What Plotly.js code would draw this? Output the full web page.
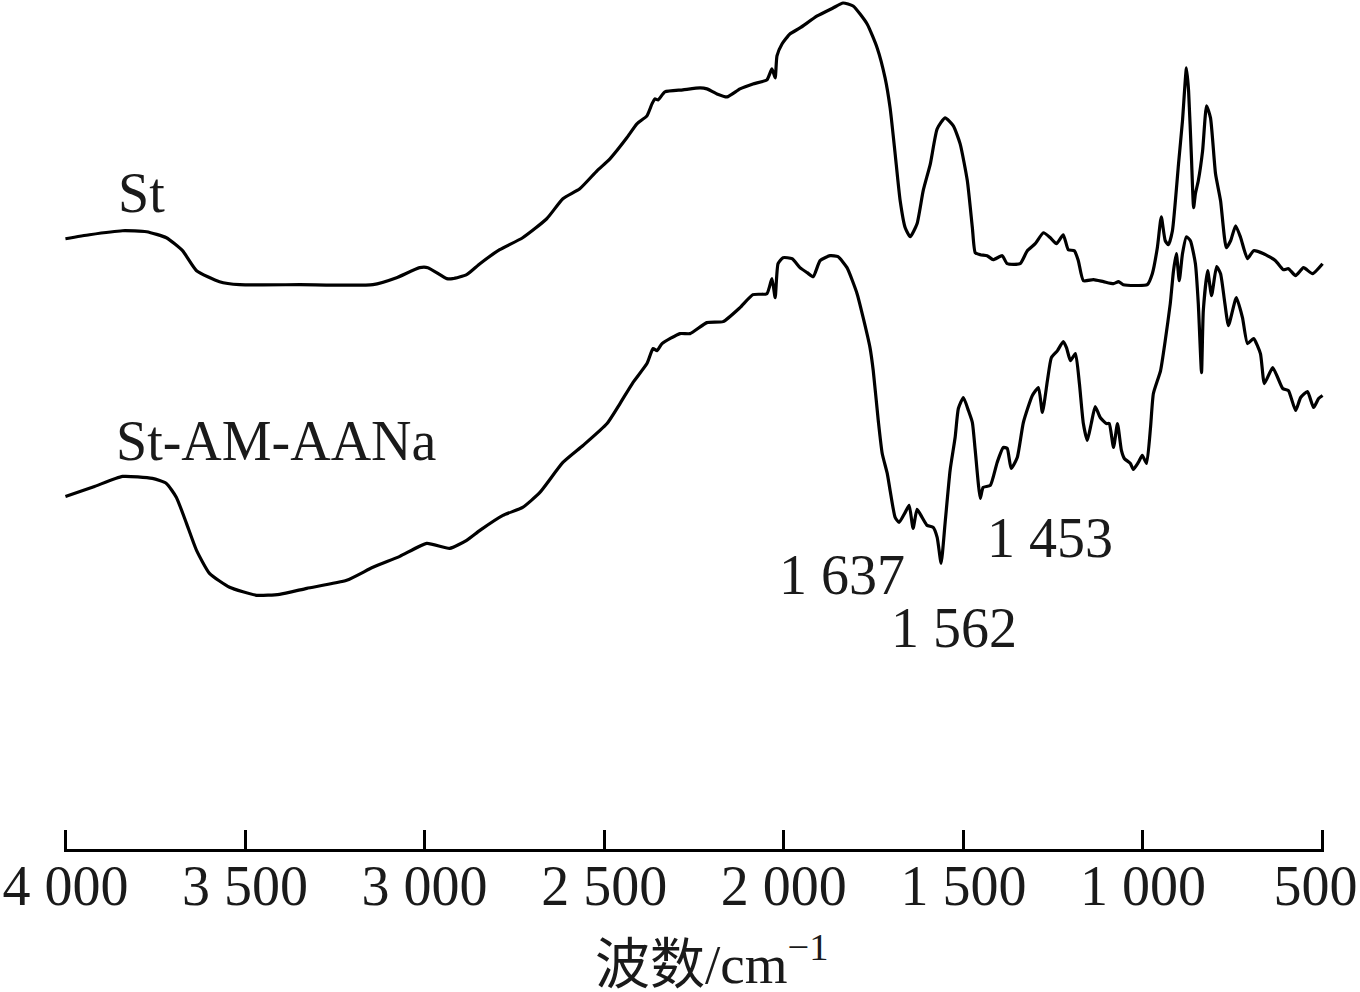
<!DOCTYPE html>
<html>
<head>
<meta charset="utf-8">
<script src="https://cdn.plot.ly/plotly-3.0.1.min.js"></script>
<style>
  html, body { margin: 0; padding: 0; background: #fff; }
  #chart { width: 1360px; height: 992px; }
</style>
</head>
<body>
<div id="chart"></div>
<script>
// FTIR spectra, wavenumber (cm-1) vs. transmittance (arbitrary units, curves offset)
var wnSt = [
    4000, 3933, 3841, 3774, 3719, 3674, 3635, 3571, 3515, 3348,
    3144, 3078, 3014, 2991, 2938, 2922, 2883, 2846, 2791, 2727,
    2660, 2615, 2568, 2520, 2484, 2437, 2409, 2381, 2367, 2359,
    2350, 2331, 2281, 2233, 2214, 2186, 2158, 2122, 2086, 2047,
    2033, 2024, 2019, 2005, 1983, 1955, 1907, 1863, 1835, 1807,
    1768, 1740, 1718, 1704, 1690, 1676, 1662, 1648, 1629, 1612,
    1592, 1573, 1551, 1528, 1509, 1489, 1475, 1467, 1453, 1434,
    1417, 1392, 1378, 1342, 1322, 1300, 1277, 1258, 1241, 1222,
    1208, 1191, 1180, 1166, 1138, 1110, 1082, 1068, 1055, 988,
    974, 960, 949, 938, 929, 918, 901, 890, 879, 873,
    865, 859, 854, 846, 834, 823, 812, 798, 784, 768,
    756, 742, 728, 709, 692, 664, 631, 609, 595, 575,
    553, 528, 500
];
var tSt = [
    611, 615, 619, 618, 612, 599, 579, 568, 565, 565,
    565, 572, 582, 582, 571, 571, 575, 586, 600, 612,
    631, 651, 661, 679, 691, 712, 726, 734, 746, 751,
    750, 758, 760, 762, 761, 756, 753, 761, 766, 770,
    781, 772, 794, 806, 816, 822, 834, 842, 847, 844,
    826, 802, 772, 742, 696, 649, 622, 613, 626, 659,
    686, 721, 732, 724, 706, 669, 622, 597, 595, 594,
    590, 594, 586, 586, 599, 606, 617, 612, 606, 615,
    600, 599, 589, 569, 570, 568, 566, 568, 565, 565,
    576, 602, 633, 609, 605, 619, 686, 729, 782, 759,
    692, 642, 656, 669, 699, 744, 732, 676, 649, 602,
    609, 624, 612, 591, 599, 596, 589, 580, 581, 574,
    582, 576, 586
];

var wnGraft = [
    4000, 3919, 3841, 3758, 3719, 3691, 3663, 3635, 3599, 3543,
    3468, 3404, 3328, 3217, 3144, 3069, 2994, 2930, 2883, 2846,
    2782, 2727, 2679, 2615, 2559, 2492, 2456, 2420, 2381, 2364,
    2353, 2339, 2289, 2261, 2214, 2169, 2122, 2086, 2047, 2033,
    2024, 2016, 2002, 1977, 1955, 1935, 1918, 1899, 1871, 1849,
    1824, 1796, 1779, 1760, 1751, 1737, 1726, 1712, 1704, 1690,
    1679, 1662, 1651, 1640, 1629, 1615, 1601, 1584, 1573, 1562,
    1551, 1537, 1523, 1514, 1500, 1486, 1475, 1467, 1453, 1445,
    1425, 1406, 1389, 1378, 1367, 1350, 1333, 1308, 1291, 1280,
    1266, 1255, 1238, 1222, 1213, 1202, 1188, 1177, 1166, 1155,
    1144, 1133, 1119, 1102, 1094, 1082, 1071, 1060, 1052, 1035,
    1027, 1013, 1002, 990, 979, 971, 951, 938, 924, 915,
    907, 899, 890, 879, 868, 854, 846, 837, 832, 820,
    809, 795, 784, 773, 762, 740, 723, 709, 692, 673,
    662, 639, 625, 611, 595, 575, 561, 542, 525, 511,
    500
];
var tGraft = [
    353, 363, 373, 371, 366, 352, 326, 299, 276, 262,
    254, 255, 261, 269, 282, 293, 306, 301, 309, 319,
    334, 342, 357, 387, 404, 426, 446, 467, 486, 501,
    499, 506, 516, 516, 527, 528, 542, 555, 556, 571,
    552, 586, 592, 591, 582, 577, 573, 589, 594, 593,
    582, 556, 532, 502, 479, 429, 396, 376, 359, 332,
    327, 337, 344, 321, 340, 332, 324, 322, 312, 286,
    326, 379, 412, 441, 452, 439, 427, 399, 351, 362,
    364, 387, 402, 401, 381, 392, 427, 454, 462, 437,
    469, 492, 499, 508, 502, 489, 496, 466, 426, 409,
    426, 443, 432, 426, 426, 402, 426, 399, 391, 386,
    380, 387, 394, 386, 422, 456, 479, 509, 546, 579,
    596, 569, 596, 613, 609, 586, 546, 477, 539, 579,
    554, 583, 576, 549, 524, 552, 532, 506, 511, 496,
    466, 482, 472, 461, 459, 439, 452, 458, 442, 451,
    454
];

var tickVals = [4000, 3500, 3000, 2500, 2000, 1500, 1000, 500];
var tickText = ['4 000', '3 500', '3 000', '2 500', '2 000', '1 500', '1 000', '500\u00a0'];

// curve names and marked peaks
var curveNames = ['St', 'St-AM-AANa'];
var peakLabels = ['1 637', '1 562', '1 453'];
var xTitle = '波数/cm<sup>−1</sup>';

var serif = '"Liberation Serif", "Times New Roman", serif';
var lineStyle = {color: '#000', width: 3.2, shape: 'spline', smoothing: 0.5};

var traceSt = {
    x: wnSt,
    y: tSt,
    name: curveNames[0],
    type: 'scatter',
    mode: 'lines',
    line: lineStyle,
    hoverinfo: 'skip'
};
var traceGraft = {
    x: wnGraft,
    y: tGraft,
    name: curveNames[1],
    type: 'scatter',
    mode: 'lines',
    line: lineStyle,
    hoverinfo: 'skip'
};

function textNote(txt, x, y)
{
    return {
        text: txt, x: x, y: y, xref: 'x', yref: 'y',
        showarrow: false, xanchor: 'center', yanchor: 'middle',
        font: {family: serif, size: 56, color: '#1a1a1a'}
    };
}

var titleNote = {
    text: xTitle, x: 0.514, y: -0.131, xref: 'paper', yref: 'paper',
    showarrow: false, xanchor: 'center', yanchor: 'middle',
    font: {family: '"Liberation Serif", "Noto Sans CJK SC", serif', size: 55, color: '#1a1a1a'}
};

var layout = {
    width: 1360,
    height: 992,
    // a little padding on the range keeps the end ticks from being dropped
    margin: {l: 64, r: 36, t: 0, b: 143},
    paper_bgcolor: '#fff',
    plot_bgcolor: '#fff',
    showlegend: false,
    xaxis: {
        range: [4004, 496],
        autorange: false,
        showgrid: false,
        zeroline: false,
        showline: true,
        linecolor: '#000',
        linewidth: 3,
        ticks: 'inside',
        ticklen: 19,
        tickwidth: 3,
        tickcolor: '#000',
        tickvals: tickVals,
        ticktext: tickText,
        ticklabelstandoff: -14,
        ticklabeloverflow: 'allow',
        tickfont: {family: serif, size: 56, color: '#1a1a1a'}
    },
    yaxis: {
        range: [0, 850],
        autorange: false,
        visible: false,
        showgrid: false,
        zeroline: false
    },
    annotations: [
        textNote(curveNames[0], 3788, 657),
        textNote(curveNames[1], 3412, 408),
        textNote(peakLabels[0], 1838, 274),
        textNote(peakLabels[1], 1525, 221),
        textNote(peakLabels[2], 1258, 311),
        titleNote
    ]
};

Plotly.newPlot('chart', [traceSt, traceGraft], layout, {displayModeBar: false, staticPlot: true});
</script>
</body>
</html>
